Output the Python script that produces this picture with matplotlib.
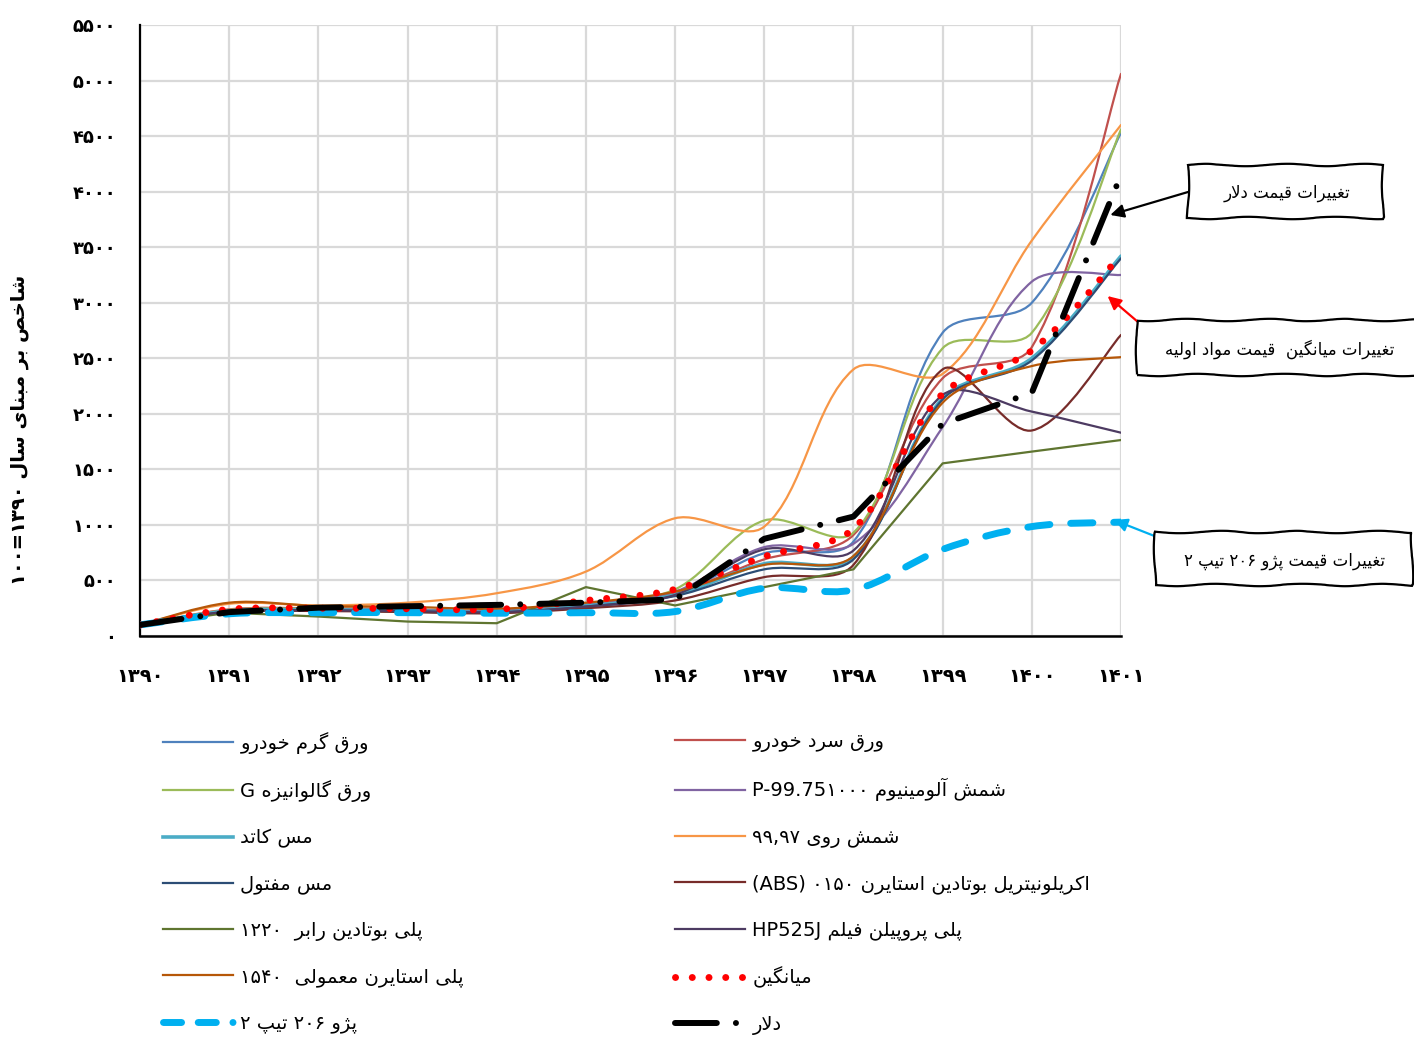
import numpy as np
import matplotlib
matplotlib.use('Agg')
from matplotlib import pyplot as plt
from matplotlib.path import Path
from matplotlib.patches import PathPatch, Rectangle
from matplotlib.lines import Line2D

plt.rcParams['font.family'] = ['DejaVu Sans']

# --- minimal Persian shaping (matplotlib has no bidi / shaping) ---
FORMS = {
    'ا': ('\uFE8D', '\uFE8E'), 'آ': ('\uFE81', '\uFE82'),
    'ب': ('\uFE8F', '\uFE90', '\uFE91', '\uFE92'), 'پ': ('\uFB56', '\uFB57', '\uFB58', '\uFB59'),
    'ت': ('\uFE95', '\uFE96', '\uFE97', '\uFE98'), 'خ': ('\uFEA5', '\uFEA6', '\uFEA7', '\uFEA8'),
    'د': ('\uFEA9', '\uFEAA'), 'ر': ('\uFEAD', '\uFEAE'), 'ز': ('\uFEAF', '\uFEB0'),
    'ژ': ('\uFB8A', '\uFB8B'), 'س': ('\uFEB1', '\uFEB2', '\uFEB3', '\uFEB4'),
    'ش': ('\uFEB5', '\uFEB6', '\uFEB7', '\uFEB8'), 'ص': ('\uFEB9', '\uFEBA', '\uFEBB', '\uFEBC'),
    'ع': ('\uFEC9', '\uFECA', '\uFECB', '\uFECC'), 'غ': ('\uFECD', '\uFECE', '\uFECF', '\uFED0'),
    'ف': ('\uFED1', '\uFED2', '\uFED3', '\uFED4'), 'ق': ('\uFED5', '\uFED6', '\uFED7', '\uFED8'),
    'ک': ('\uFB8E', '\uFB8F', '\uFB90', '\uFB91'), 'گ': ('\uFB92', '\uFB93', '\uFB94', '\uFB95'),
    'ل': ('\uFEDD', '\uFEDE', '\uFEDF', '\uFEE0'), 'م': ('\uFEE1', '\uFEE2', '\uFEE3', '\uFEE4'),
    'ن': ('\uFEE5', '\uFEE6', '\uFEE7', '\uFEE8'), 'ه': ('\uFEE9', '\uFEEA', '\uFEEB', '\uFEEC'),
    'و': ('\uFEED', '\uFEEE'), 'ی': ('\uFBFC', '\uFBFD', '\uFBFE', '\uFBFF'),
}
LAM_ALEF = {'ا': ('\uFEFB', '\uFEFC'), 'آ': ('\uFEF5', '\uFEF6')}


def shape(s):
    s = s.replace('\u064A', '\u06CC').replace('\u0643', '\u06A9')
    out = []
    i = 0
    while i < len(s):
        c = s[i]
        prev = s[i - 1] if i > 0 else ''
        pj = prev in FORMS and len(FORMS[prev]) == 4
        if c == 'ل' and i + 1 < len(s) and s[i + 1] in LAM_ALEF:
            out.append(LAM_ALEF[s[i + 1]][1 if pj else 0])
            i += 2
            continue
        if c in FORMS:
            f = FORMS[c]
            nj = i + 1 < len(s) and s[i + 1] in FORMS
            if len(f) == 2:
                out.append(f[1] if pj else f[0])
            else:
                out.append(f[{(False, False): 0, (True, False): 1, (False, True): 2, (True, True): 3}[(pj, nj)]])
        else:
            out.append(c)
        i += 1
    return ''.join(out)


def fa(s):
    return shape(s)[::-1]


def fd(s):
    return str(s).translate(str.maketrans('0123456789', '۰۱۲۳۴۵۶۷۸۹'))


# --- data ---
years = [1390, 1391, 1392, 1393, 1394, 1395, 1396, 1397, 1398, 1399, 1400, 1401]
hot_sheet = [100, 230, 240, 230, 220, 280, 380, 745, 850, 2730, 3000, 4530]
cold_sheet = [100, 240, 250, 240, 225, 290, 390, 690, 910, 2320, 2600, 5060]
galv_sheet = [100, 235, 245, 235, 220, 290, 420, 1040, 930, 2590, 2730, 4560]
aluminium = [100, 230, 240, 235, 225, 285, 400, 800, 830, 1880, 3190, 3250]
copper_cathode = [100, 225, 235, 225, 215, 270, 370, 650, 710, 2140, 2500, 3420]
zinc = [100, 290, 275, 300, 385, 580, 1060, 985, 2400, 2360, 3560, 4600]
copper_wire = [100, 220, 230, 220, 210, 265, 360, 600, 690, 2130, 2480, 3400]
abs_resin = [100, 215, 225, 215, 205, 250, 320, 530, 640, 2400, 1850, 2710]
pb_rubber = [100, 210, 175, 130, 115, 440, 275, 440, 600, 1554, 1660, 1764]
pp_film = [100, 220, 230, 225, 215, 265, 370, 780, 770, 2170, 2020, 1830]
polystyrene = [100, 300, 270, 262, 245, 300, 400, 640, 720, 2100, 2430, 2510]
average = [100, 240, 250, 245, 240, 320, 420, 715, 965, 2180, 2570, 3430]
peugeot = [100, 200, 210, 210, 205, 210, 220, 430, 415, 780, 985, 1025]
dollar = [100, 215, 255, 268, 280, 300, 330, 875, 1075, 1910, 2190, 4150]

y_ticks = list(range(0, 5501, 500))

lbl_hot = fa('ورق گرم خودرو')
lbl_cold = fa('ورق سرد خودرو')
lbl_galv = 'G ' + fa('ورق گالوانیزه')
lbl_alu = 'P-99.75' + fd('1000') + ' ' + fa('شمش آلومینیوم')
lbl_cath = fa('مس کاتد')
lbl_zinc = fd('99,97') + ' ' + fa('شمش روی')
lbl_wire = fa('مس مفتول')
lbl_abs = '(ABS) ' + fd('0150') + ' ' + fa('اکریلونیتریل بوتادین استایرن')
lbl_pbr = fd('1220') + '  ' + fa('پلی بوتادین رابر')
lbl_pp = 'HP525J ' + fa('پلی پروپیلن فیلم')
lbl_ps = fd('1540') + '  ' + fa('پلی استایرن معمولی')
lbl_avg = fa('میانگین')
lbl_peu = fd('2') + ' ' + fa('تیپ') + ' ' + fd('206') + ' ' + fa('پژو')
lbl_usd = fa('دلار')

W, H = 1414, 1037
X_PX = (1121 - 140) / 11.0   # pixels per year
Y_PX = (636 - 25) / 5500.0   # pixels per index unit


def smooth_path(xs, ys):
    # excel-like smoothed line: bezier with control arms weighted by chord length
    P = np.column_stack([np.asarray(xs, float) * X_PX, np.asarray(ys, float) * Y_PX])
    n = len(P)
    verts = [P[0]]
    codes = [Path.MOVETO]
    for i in range(n - 1):
        p1, p2 = P[i], P[i + 1]
        if i == 0:
            c1 = p1 + (p2 - p1) / 6
        else:
            lp = np.hypot(*(p1 - P[i - 1]))
            ln = np.hypot(*(p2 - p1))
            c1 = p1 + (p2 - P[i - 1]) * ln / (lp + ln) / 3
        if i + 2 >= n:
            c2 = p2 - (p2 - p1) / 6
        else:
            lp = np.hypot(*(p2 - p1))
            ln = np.hypot(*(P[i + 2] - p2))
            c2 = p2 - (P[i + 2] - p1) * lp / (lp + ln) / 3
        verts += [c1, c2, p2]
        codes += [Path.CURVE4] * 3
    verts = np.array(verts) / [X_PX, Y_PX]
    return Path(verts, codes)


fig = plt.figure(figsize=(W / 100, H / 100), dpi=100)
ax = fig.add_axes([140 / W, 1 - 636 / H, (1121 - 140) / W, (636 - 25) / H])

# (values, colour, width, linestyle, smooth, label)
series = [
    (hot_sheet, '#4F81BD', 1.6, '-', True, lbl_hot),
    (cold_sheet, '#C0504D', 1.6, '-', True, lbl_cold),
    (galv_sheet, '#9BBB59', 1.6, '-', True, lbl_galv),
    (aluminium, '#8064A2', 1.6, '-', True, lbl_alu),
    (copper_cathode, '#4BACC6', 2.6, '-', True, lbl_cath),
    (zinc, '#F79646', 1.6, '-', True, lbl_zinc),
    (copper_wire, '#2C4D75', 1.6, '-', True, lbl_wire),
    (abs_resin, '#772C2A', 1.6, '-', True, lbl_abs),
    (pb_rubber, '#5F7530', 1.6, '-', False, lbl_pbr),
    (pp_film, '#4D3B62', 1.6, '-', True, lbl_pp),
    (polystyrene, '#B65708', 1.6, '-', True, lbl_ps),
    (peugeot, '#00B0F0', 5.0, (0, (3.2, 3.0)), True, lbl_peu),
    (average, '#FF0000', 5.0, (0, (0.01, 2.4)), True, lbl_avg),
    (dollar, '#000000', 4.3, (0, (7.0, 3.2, 0.01, 3.2)), False, lbl_usd),
]

handles = {}
for vals, col, lw, ls, smooth, lbl in series:
    if smooth:
        pp = PathPatch(smooth_path(years, vals), fill=False, edgecolor=col, lw=lw,
                       linestyle=ls, capstyle='round', joinstyle='round', zorder=3)
        ax.add_patch(pp)
    else:
        ax.plot(years, vals, color=col, lw=lw, linestyle=ls, dash_capstyle='round',
                solid_capstyle='round', zorder=3)
    handles[lbl] = Line2D([], [], color=col, lw=lw, linestyle=ls, dash_capstyle='round')

# legend sample for the car: dash, dash, dot
handles[lbl_peu] = Line2D([], [], color='#00B0F0', lw=5.0, linestyle=(0, (2.6, 2.4, 2.6, 2.4, 0.01, 3)),
                          dash_capstyle='round')

ax.set_xlim(1390, 1401)
ax.set_ylim(0, 5500)
ax.set_xticks(years)
ax.set_xticklabels([fd(y) for y in years], fontsize=14, fontweight='bold')
ax.set_yticks(y_ticks)
ax.set_yticklabels([fd(v) for v in y_ticks], fontsize=13, fontweight='bold')
ax.tick_params(axis='both', length=0)
ax.tick_params(axis='y', pad=17)
ax.tick_params(axis='x', pad=22)
ax.grid(True, color='#D9D9D9', lw=1.6)
ax.set_axisbelow(True)
for s in ['top', 'right']:
    ax.spines[s].set_visible(False)
ax.spines['left'].set_linewidth(1.6)
ax.spines['bottom'].set_linewidth(1.8)

fig.text(20 / W, 1 - 430 / H, fd('100') + '=' + fd('1390') + ' ' + fa('شاخص بر مبنای سال'),
         rotation=90, ha='center', va='center', fontsize=14, fontweight='bold')

# legends: two columns
left_col = [lbl_hot, lbl_galv, lbl_cath, lbl_wire, lbl_pbr, lbl_ps, lbl_peu]
right_col = [lbl_cold, lbl_alu, lbl_zinc, lbl_abs, lbl_pp, lbl_avg, lbl_usd]
for col_labels, x0 in [(left_col, 153), (right_col, 665)]:
    lg = fig.legend([handles[l] for l in col_labels], col_labels, loc='upper left',
                    bbox_to_anchor=(x0 / W, 1 - 722 / H), frameon=False, fontsize=14,
                    handlelength=3.6, handletextpad=0.4, labelspacing=1.36, borderpad=0)


# annotation boxes
def px(x, y):
    return (x / W, 1 - y / H)


boxes = [
    (1188, 165, 195, 53, fa('تغییرات قیمت دلار'), (1287, 193), (1188, 192), (1400.88, 3790), 'black'),
    (1137, 320, 290, 55, fa('تغییرات میانگین  قیمت مواد اولیه'), (1280, 349), (1138, 322),
     (1400.85, 3060), 'red'),
    (1155, 532, 257, 53, fd('2') + ' ' + fa('تیپ') + ' ' + fd('206') + ' ' + fa('تغییرات قیمت پژو'),
     (1285, 561), (1157, 537), (1400.92, 1044), '#00B0F0'),
]
for bx, by, bw, bh, txt, tc, start, target, acol in boxes:
    r = Rectangle(px(bx, by + bh), bw / W, bh / H, transform=fig.transFigure, fill=True,
                  facecolor='white', edgecolor='black', lw=1.6, zorder=5)
    r.set_sketch_params(1.2, 90, 2)
    fig.patches.append(r)
    fig.text(*px(*tc), txt, ha='center', va='center', fontsize=12, zorder=6)
    ax.annotate('', xy=target, xycoords='data', xytext=px(*start), textcoords='figure fraction',
                arrowprops=dict(arrowstyle='-|>', color=acol, lw=1.6, mutation_scale=20,
                                shrinkA=0, shrinkB=0), annotation_clip=False, zorder=6)

fig.savefig('out.png', dpi=100)
